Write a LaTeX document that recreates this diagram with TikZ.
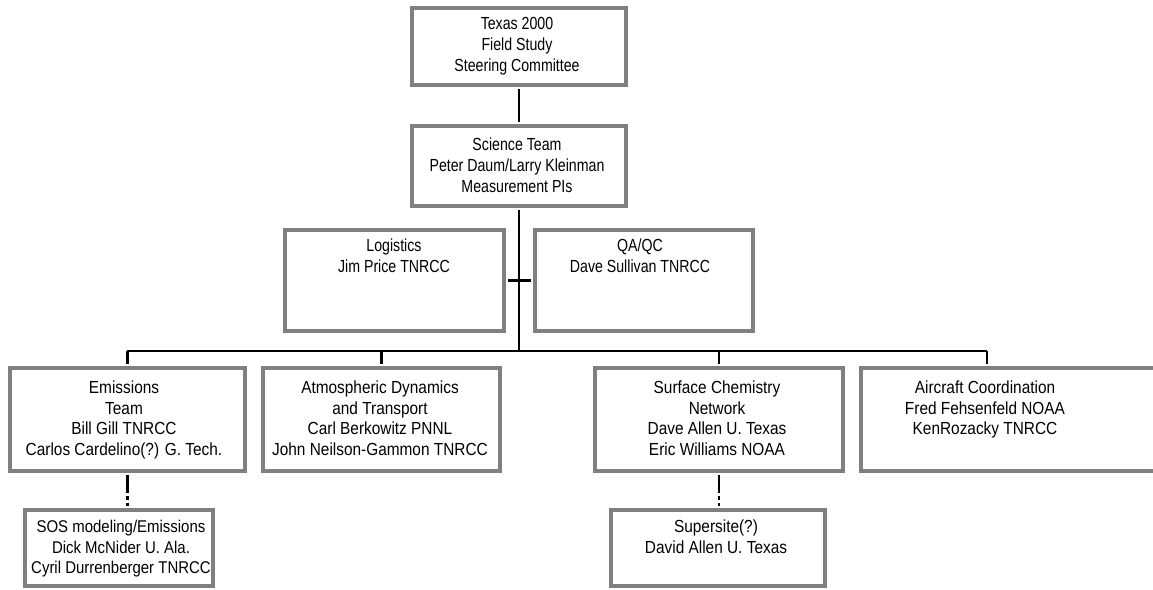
\documentclass[tikz,border=0pt]{standalone}
\usepackage{fontspec}
\setmainfont{Liberation Sans}[FakeStretch=0.81]
\newfontfamily\lowfont{Liberation Sans}[FakeStretch=0.88]
\definecolor{boxgrey}{RGB}{128,128,128}
\tikzset{
  box/.style={draw=boxgrey, line width=4pt, inner sep=0pt},
  txt/.style={anchor=north, align=center, inner sep=0pt, font=\fontsize{17.5}{21}\selectfont},
  lowtxt/.style={txt, font=\lowfont\fontsize{17.5}{20.8}\selectfont},
  link/.style={line width=2.2pt, shorten <=2pt, shorten >=2pt},
  dashlink/.style={link, dash pattern=on 18pt off 3pt on 4pt off 3pt on 9pt off 0pt},
}
\begin{document}
\begin{tikzpicture}[x=1pt,y=-1pt]
  \useasboundingbox (0,0) rectangle (1153,589);
  % boxes
  \node [box, minimum width=214pt, minimum height=77pt] (steer) at (519,46.5) {};
  \node [box, minimum width=214pt, minimum height=80pt] (sci) at (519,166) {};
  \node [box, minimum width=219pt, minimum height=101pt] (logi) at (394.5,280.5) {};
  \node [box, minimum width=218pt, minimum height=101pt] (qaqc) at (644,280.5) {};
  \node [box, minimum width=235pt, minimum height=103pt] (emis) at (127.5,419.5) {};
  \node [box, minimum width=237pt, minimum height=103pt] (atmo) at (381.5,419.5) {};
  \node [box, minimum width=248pt, minimum height=103pt] (surf) at (719,419.5) {};
  \node [box, minimum width=302pt, minimum height=103pt] (air) at (1012,419.5) {};
  \node [box, minimum width=188pt, minimum height=76pt] (sos) at (119,548) {};
  \node [box, minimum width=214pt, minimum height=76pt] (super) at (718,548) {};
  % texts
  \node [txt] (steer-t) at (517,17.5) {Texas 2000\\Field Study\\Steering Committee};
  \node [txt] (sci-t) at (517,137.5) {Science Team\\Peter Daum/Larry Kleinman\\Measurement PIs};
  \node [txt] (logi-t) at (394,238.5) {Logistics\\Jim Price TNRCC};
  \node [txt] (qaqc-t) at (640,238.5) {QA/QC\\Dave Sullivan TNRCC};
  \node [lowtxt] (emis-t) at (124,380.5) {Emissions\\Team\\Bill Gill TNRCC\\Carlos Cardelino(?) G. Tech.};
  \node [lowtxt] (atmo-t) at (380,380.5) {Atmospheric Dynamics\\and Transport\\Carl Berkowitz PNNL\\John Neilson-Gammon TNRCC};
  \node [lowtxt] (surf-t) at (717,380.5) {Surface Chemistry\\Network\\Dave Allen U. Texas\\Eric Williams NOAA};
  \node [lowtxt] (air-t) at (985,380.5) {Aircraft Coordination\\Fred Fehsenfeld NOAA\\KenRozacky TNRCC};
  \node [lowtxt, font=\lowfont\fontsize{17}{20.5}\selectfont] (sos-t) at (121,520) {SOS modeling/Emissions\\Dick McNider U. Ala.\\Cyril Durrenberger TNRCC};
  \node [lowtxt] (super-t) at (716,519.5) {Supersite(?)\\David Allen U. Texas};
  % connectors
  \coordinate (bus-l) at (127,351);
  \coordinate (bus-r) at (987,351);
  \coordinate (hub) at (sci.south |- bus-l);
  \draw [link] (steer) -- (sci);
  \draw [link, shorten >=0pt] (sci.south) -- (hub);
  \draw [link] (logi.east) -- (qaqc.west);
  \draw [line width=2.2pt] (bus-l) -- (bus-r);
  \foreach \n in {emis,atmo,surf}{
    \draw [link, shorten <=0pt] (\n.north |- bus-l) -- (\n.north);
  }
  \draw [link, shorten <=0pt] (bus-r) -- (bus-r |- air.north);
  \draw [dashlink] (emis.south) -- (emis.south |- sos.north);
  \draw [dashlink] (surf.south) -- (surf.south |- super.north);
\end{tikzpicture}
\end{document}
